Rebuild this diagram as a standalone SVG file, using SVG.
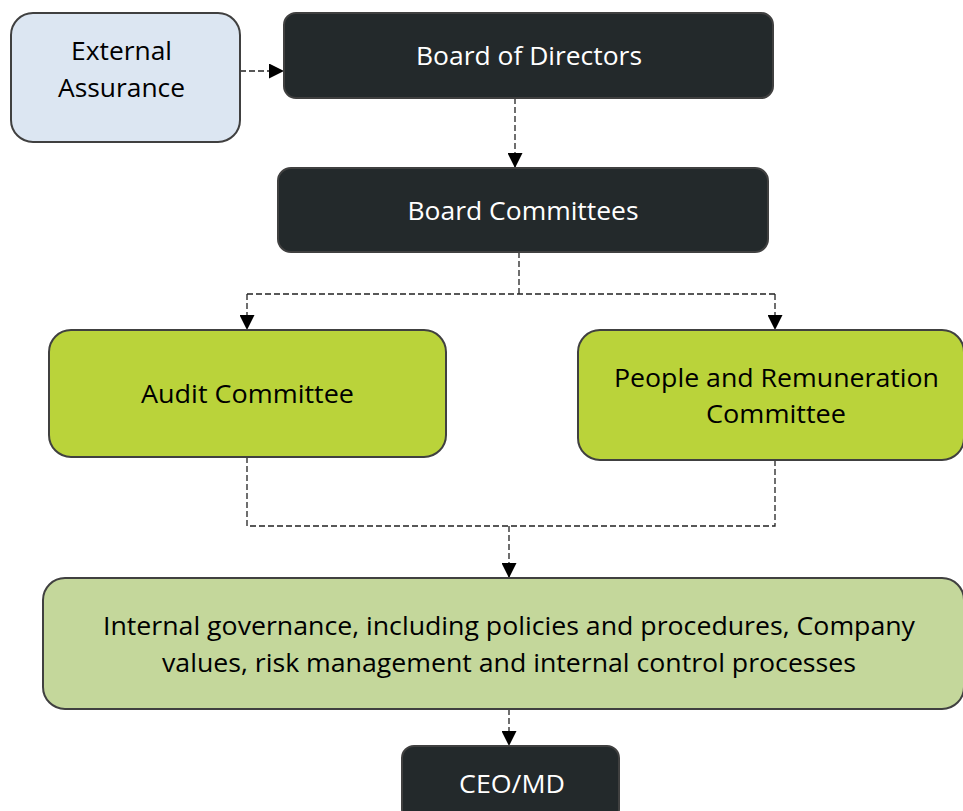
<svg xmlns="http://www.w3.org/2000/svg" width="963" height="811" viewBox="0 0 963 811">
<defs>
<marker id="arr" markerUnits="userSpaceOnUse" markerWidth="15" markerHeight="15" refX="15" refY="7.5" orient="auto">
<path d="M0,0 L15,7.5 L0,15 z" fill="#000"/>
</marker>
<style>
.box{stroke:#404040;stroke-width:2}
.dark{fill:#23292b}
.blue{fill:#dce6f2}
.lime{fill:#bad33a}
.sage{fill:#c4d79b}
.t{font-family:"Open Sans","Liberation Sans",sans-serif;font-size:26px;text-anchor:middle}
.w{fill:#ffffff}
.k{fill:#000000}
.c{fill:none;stroke:#222;stroke-width:1.3;stroke-dasharray:6,3}
</style>
</defs>
<rect width="963" height="811" fill="#ffffff"/>
<g id="connectors">
<path class="c" d="M240,71 H284" marker-end="url(#arr)"/>
<path class="c" d="M515,98 V168" marker-end="url(#arr)"/>
<path class="c" d="M519,252 V294"/>
<path class="c" d="M247,294 H775"/>
<path class="c" d="M247,294 V330" marker-end="url(#arr)"/>
<path class="c" d="M775,294 V330" marker-end="url(#arr)"/>
<path class="c" d="M247,457 V526 H775 V460"/>
<path class="c" d="M509,526 V578" marker-end="url(#arr)"/>
<path class="c" d="M509,709 V746" marker-end="url(#arr)"/>
</g>
<g id="external">
<rect class="box blue" x="11" y="13" width="229" height="129" rx="22"/>
<text class="t k" x="121.5" y="60" textLength="101" lengthAdjust="spacingAndGlyphs">External</text>
<text class="t k" x="121.5" y="97" textLength="127" lengthAdjust="spacingAndGlyphs">Assurance</text>
</g>
<g id="board">
<rect class="box dark" x="284" y="13" width="489" height="85" rx="12"/>
<text class="t w" x="529" y="65" textLength="226" lengthAdjust="spacingAndGlyphs">Board of Directors</text>
</g>
<g id="committees">
<rect class="box dark" x="278" y="168" width="490" height="84" rx="13"/>
<text class="t w" x="523" y="220" textLength="231" lengthAdjust="spacingAndGlyphs">Board Committees</text>
</g>
<g id="audit">
<rect class="box lime" x="49" y="330" width="397" height="127" rx="22"/>
<text class="t k" x="247.5" y="403" textLength="213" lengthAdjust="spacingAndGlyphs">Audit Committee</text>
</g>
<g id="people">
<rect class="box lime" x="578" y="330" width="386" height="130" rx="22"/>
<text class="t k" x="776.5" y="387" textLength="325" lengthAdjust="spacingAndGlyphs">People and Remuneration</text>
<text class="t k" x="776" y="423" textLength="140" lengthAdjust="spacingAndGlyphs">Committee</text>
</g>
<g id="internal">
<rect class="box sage" x="43" y="578" width="921" height="131" rx="22"/>
<text class="t k" x="509" y="635" textLength="812" lengthAdjust="spacingAndGlyphs">Internal governance, including policies and procedures, Company</text>
<text class="t k" x="509" y="672" textLength="694" lengthAdjust="spacingAndGlyphs">values, risk management and internal control processes</text>
</g>
<g id="ceo">
<rect class="box dark" x="402" y="746" width="217" height="75" rx="12"/>
<text class="t w" x="512" y="793" textLength="106" lengthAdjust="spacingAndGlyphs">CEO/MD</text>
</g>
</svg>
